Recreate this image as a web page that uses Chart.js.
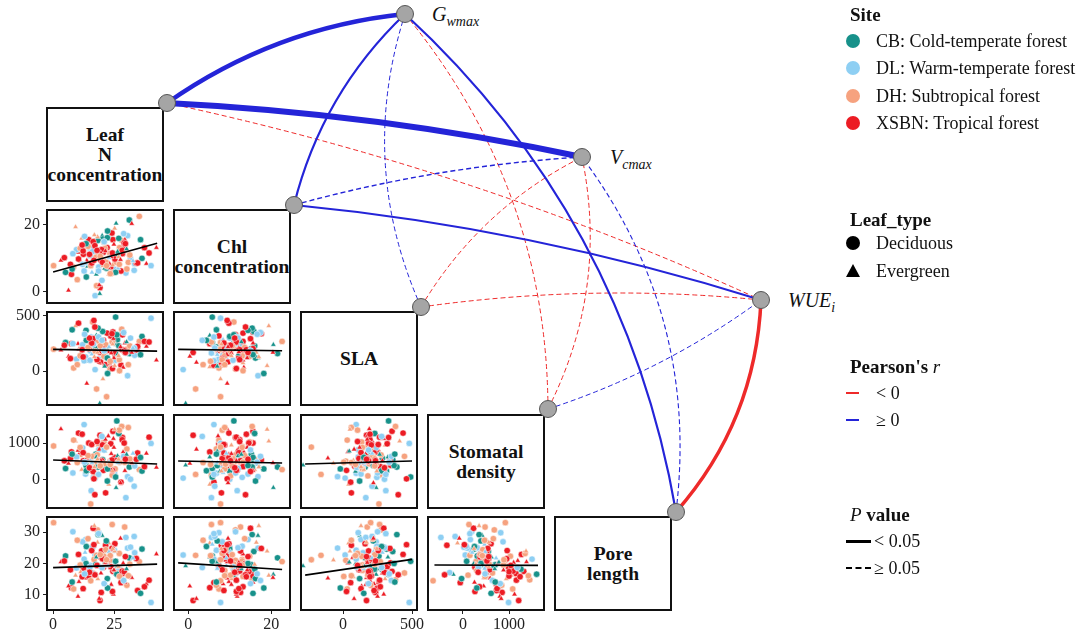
<!DOCTYPE html>
<html>
<head>
<meta charset="utf-8">
<title>Leaf traits vs Gwmax, Vcmax, WUEi</title>
<script src="https://cdn.jsdelivr.net/npm/chart.js@4.4.1/dist/chart.umd.min.js"></script>
<style>
  body { margin: 0; width: 1080px; height: 637px; position: relative; overflow: hidden; background: #fff;
         font-family: "Liberation Serif", "Times New Roman", serif; color: #111; }
  canvas { position: absolute; }
  .diag { position: absolute; box-sizing: border-box; border: 2px solid #111; display: flex; align-items: center;
          justify-content: center; text-align: center; font-weight: bold; font-size: 19.5px; line-height: 20px; }
  .lbl { position: absolute; font-style: italic; font-size: 20px; line-height: 22px; white-space: nowrap; }
  .lbl sub { font-size: 14px; vertical-align: -5px; line-height: 0; }
  .lt { position: absolute; left: 850px; font-weight: bold; font-size: 19px; line-height: 22px; white-space: nowrap; }
  .li { position: absolute; left: 876px; font-size: 18px; line-height: 20px; white-space: nowrap; }
  .sym { position: absolute; }
</style>
</head>
<body>

<div class="lbl" style="left:432px;top:3px">G<sub>wmax</sub></div>
<div class="lbl" style="left:610px;top:146px">V<sub>cmax</sub></div>
<div class="lbl" style="left:788px;top:289px">WUE<sub>i</sub></div>

<script>
// =====================
// Data
// =====================
const traitLabels = [["Leaf", "N", "concentration"], ["Chl", "concentration"], ["SLA"], ["Stomatal", "density"], ["Pore", "length"]];
const siteNames = ["CB: Cold-temperate forest", "DL: Warm-temperate forest", "DH: Subtropical forest", "XSBN: Tropical forest"];
const typeNames = ["Deciduous", "Evergreen"];

// one entry per sampled species/leaf
const leafN = [12.4, 25.1, 18.3, 31.2, 7.5, 22.8, 15.2, 28.4, 20.1, 35.3,
  10.6, 17.2, 24.5, 29.3, 14.1, 19.7, 33.4, 9.2, 21.5, 26.3,
  16.8, 38.2, 13.3, 23.6, 27.4, 5.1, 19.2, 30.5, 11.3, 22.1,
  18.7, 25.8, 34.1, 8.4, 20.6, 15.9, 28.1, 42.3, 17.5, 24.2,
  13.8, 21.2, 31.7, 6.3, 26.9, 19.4, 16.2, 29.8, 10.2, 23.3,
  36.4, 14.6, 22.4, 18.1, 27.8, 3.2, 20.3, 25.4, 12.1, 32.2,
  17.8, 24.7, 9.6, 21.8, 28.7, 15.4, 19.9, 40.1, 11.7, 26.1,
  23.1, 16.5, 30.2, 7.1, 18.4, 22.6, 27.2, 13.1, 34.6, 20.8,
  15.6, 25.3, 19.1, 0.2, 29.4, 12.7, 24.1, 17.3, 21.1, 37.4,
  14.3, 26.6, 10.4, 22.2, 31.4, 18.9, 16.1, 28.3, 20.4, 8.1,
  23.8, 13.5, 27.1, 19.6, 33.2, 11.1, 24.3, 17.7, 29.1, 21.6,
  15.1, 39.3, 18.2, 25.6, 12.3, 22.9, 30.8, 16.4, 26.4, 20.2,
  19.3, 24.9, 13.6, 28.9, 21.4, 9.9, 17.1, 32.7, 22.3, 15.8,
  26.8, 18.6, 11.9, 23.4, 30.1, 16.7, 20.9, 4.6, 25.2, 14.9,
  35.8, 21.9, 27.6, 12.9, 18.0, 24.4, 7.8, 29.6, 20.0, 16.9];
const chl = [11.2, 6.8, 10.4, 21.5, 5.2, 5.2, 12.8, 11.4, 16.8, 22.6,
  9.8, -1.2, 15.6, 12.6, 7.6, 12.6, 8.4, 19.4, 8.0, 11.0,
  13.0, 8.4, 14.4, 7.4, 13.2, 5.8, 1.2, 16.8, 9.0, 13.2,
  7.4, 20.5, 8.6, 7.4, 11.8, 5.8, 15.4, 13.2, 15.2, 5.6,
  9.4, 13.0, 10.0, 0.4, 16.0, 9.6, 11.0, 5.6, 11.8, 11.4,
  10.0, 15.6, 9.2, 11.4, 6.2, 9.4, 15.8, 8.8, 8.2, 20.4,
  1.8, 11.6, 12.6, 7.0, 13.4, 7.8, 12.6, 7.8, 16.0, 11.0,
  8.4, 13.0, 6.8, 8.2, 15.4, 7.2, 13.2, 8.4, 8.6, 14.8,
  11.8, 9.8, -0.6, 7.8, 15.6, 6.2, 17.6, 10.2, 7.0, 13.2,
  13.6, 7.0, 9.8, 16.2, 11.0, 2.0, 12.0, 12.4, 7.8, 11.4,
  10.4, 14.4, 8.2, 11.6, 6.4, 13.0, 11.6, 5.2, 14.6, 9.0,
  10.8, 11.6, 16.4, 5.8, 12.2, 10.2, 8.8, 15.0, 12.0, 8.8,
  10.6, 14.2, 4.4, 17.4, 12.2, 3.6, 13.8, 9.2, 18.2, 8.6,
  10.4, 6.2, 14.0, 5.4, 12.8, 9.4, 15.0, 10.2, 19.0, 11.2,
  15.6, 7.8, 9.6, 16.6, 12.4, 8.0, 6.8, 14.4, 3.4, 17.0];
const sla = [210, 95, 305, 160, 250, 40, 185, 330, 120, 270,
  200, 15, 355, 175, 90, 235, 145, 410, 60, 285,
  190, 225, 130, 320, 75, 260, 170, -40, 215, 345,
  110, 240, 195, 30, 280, 155, 380, 100, 205, 265,
  -110, 180, 300, 135, 230, 85, 445, 165, 250, 20,
  315, 205, 125, 275, 55, 190, 360, 140, 240, 170,
  -160, 295, 110, 220, 35, 260, 185, 480, 150, 330,
  70, 245, 200, 115, 390, 175, 5, 285, 225, 135,
  310, 160, -290, 200, 255, 95, 340, 180, 45, 270,
  215, 150, 435, 120, 230, 80, 300, 195, -70, 250,
  165, 370, 105, 285, 210, 140, 25, 325, 185, 240,
  100, 265, 170, 490, 130, 220, 60, 295, 155, 205,
  230, 120, 280, 350, 175, 60, 400, 210, -20, 255,
  140, 310, 195, 90, 265, 460, 185, 235, 50, 300,
  150, -230, 220, 335, 105, 245, 375, 170, 280, 130];
const stomDensity = [520, 180, 940, 350, 760, -120, 610, 1150, 420, 280,
  690, 50, 1320, 480, 230, 850, 380, 1050, -350, 590,
  440, 720, 160, 980, 530, 310, 1210, 90, 650, 400,
  820, -210, 560, 1080, 260, 470, 1450, 340, 700, 130,
  590, 910, 20, 450, 1260, 370, 640, -480, 800, 510,
  240, 1000, 410, 680, -60, 1380, 550, 300, 870, 460,
  150, 1120, 620, 390, 760, -650, 520, 990, 280, 1600,
  430, 70, 840, 580, 350, 1190, 480, 200, 730, 1030,
  -290, 610, 400, 920, 250, 1500, 540, 110, 780, 360,
  660, 470, 1270, -30, 570, 830, 310, 1090, 450, 190,
  710, 390, 1350, 520, -170, 880, 260, 620, 1000, 430,
  340, 1160, 560, 80, 740, 480, 1420, 230, 650, 950,
  380, 880, 250, 640, 1100, 470, -400, 720, 300, 960,
  560, 150, 1240, 420, 690, 30, 810, 520, 1370, 330,
  610, 890, -80, 480, 1040, 240, 700, 560, 1180, 350];
const poreLength = [18.5, 24.2, 15.1, 21.8, 12.3, 26.5, 19.4, 16.8, 28.9, 20.6,
  14.2, 22.7, 17.5, 31.6, 19.9, 10.8, 23.4, 16.2, 25.8, 18.1,
  21.3, 13.5, 27.6, 19.0, 15.7, 22.4, 8.2, 24.9, 17.3, 20.2,
  29.8, 16.5, 21.6, 11.9, 18.8, 26.1, 14.8, 23.0, 19.6, 32.4,
  15.3, 20.8, 25.2, 12.8, 18.2, 22.1, 17.0, 28.3, 9.5, 21.0,
  24.6, 16.0, 19.3, 30.7, 13.9, 20.5, 23.8, 17.8, 26.9, 15.5,
  22.6, 10.2, 18.6, 27.2, 20.1, 14.5, 24.0, 7.6, 19.7, 16.6,
  21.9, 25.5, 13.1, 18.0, 29.2, 20.9, 15.9, 23.5, 11.4, 22.3,
  17.1, 26.3, 19.2, 33.0, 14.0, 21.4, 24.8, 16.3, 20.4, 12.6,
  27.9, 18.4, 22.9, 15.2, 19.8, 8.8, 25.0, 17.6, 21.1, 30.1,
  13.3, 20.0, 23.2, 16.9, 28.6, 19.5, 11.1, 22.0, 17.4, 24.4,
  18.9, 14.7, 26.7, 20.7, 12.0, 23.7, 16.1, 31.2, 19.1, 21.5,
  22.8, 17.9, 25.4, 14.6, 20.3, 27.4, 16.4, 21.7, 12.2, 24.1,
  19.0, 29.5, 15.8, 22.5, 18.3, 26.0, 13.6, 20.8, 23.9, 17.2,
  10.5, 21.2, 28.0, 16.7, 19.4, 24.7, 14.1, 22.2, 18.7, 32.0];
// 0 CB, 1 DL, 2 DH, 3 XSBN
const site = [3,1,2,0,3,2,1,3,0,2, 3,1,3,2,0,3,1,2,3,0, 2,3,1,3,2,0,3,1,2,3, 1,0,3,2,3,1,2,3,0,2,
  3,2,1,3,0,3,2,1,3,2, 0,3,1,2,3,3,0,2,1,3, 2,3,1,0,3,2,3,1,2,0, 3,1,2,3,0,3,2,1,3,2,
  1,3,0,2,3,1,3,2,0,3, 2,1,3,0,2,3,1,3,2,1, 3,0,2,3,1,2,3,0,3,2, 1,3,2,0,3,1,2,3,0,3,
  2,3,0,1,3,2,3,1,0,3, 2,1,3,2,0,3,1,3,2,3, 0,2,3,1,3,2,0,3,1,2];
// 0 deciduous, 1 evergreen
const leafType = [0,0,1,0,0,1,0,0,1,0, 1,0,0,0,1,0,0,1,0,0, 0,1,0,0,1,0,0,0,1,0, 0,1,0,0,0,1,0,1,0,0,
  1,0,0,1,0,0,0,0,1,0, 0,0,1,0,0,1,0,0,0,1, 0,1,0,0,1,0,0,0,1,0, 1,0,0,0,0,1,0,1,0,0,
  0,0,1,0,1,0,0,0,1,0, 0,1,0,0,0,1,0,0,1,0, 1,0,0,1,0,0,0,1,0,0, 0,0,1,0,0,1,0,0,1,0,
  0,1,0,0,1,0,0,1,0,0, 1,0,0,0,1,0,0,0,1,0, 0,0,1,0,0,1,0,0,0,1];

const traitVals = [leafN, chl, sla, stomDensity, poreLength];
const traitMin = [-2.5, -3.4, -305, -760, 5.2];
const traitMax = [45, 24.5, 536, 1760, 34.8];
const traitTicks = [[0, 25], [0, 20], [0, 500], [0, 1000], [10, 20, 30]];

// lower-triangle panels: row trait (y) vs column trait (x)
const panelRow = [1, 2, 2, 3, 3, 3, 4, 4, 4, 4];
const panelCol = [0, 0, 1, 0, 1, 2, 0, 1, 2, 3];
// fitted lines
const fitX0 = [0, 0, -2.4, 0, -2.4, -275, 0, -2.4, -275, -620];
const fitY0 = [5.9, 198, 198, 540, 513, 432, 18.7, 20.2, 16.3, 19.5];
const fitX1 = [42.6, 42.6, 22.6, 42.6, 22.6, 500, 42.6, 22.6, 500, 1630];
const fitY1 = [14.5, 182, 185, 432, 460, 513, 19.8, 18.1, 21.3, 19.4];

// links: traits (0-4) to Gwmax (5), Vcmax (6), WUEi (7)
const edgeFrom = [0, 0, 0, 1, 1, 1, 2, 2, 2, 3, 3, 3, 4, 4, 4];
const edgeTo   = [5, 6, 7, 5, 6, 7, 5, 6, 7, 5, 6, 7, 5, 6, 7];
const edgeR    = [0.40, 0.55, -0.08, 0.20, 0.13, 0.20, 0.08, -0.08, -0.08, -0.08, -0.08, 0.08, 0.20, 0.10, -0.32];
const edgeP    = [0.001, 0.001, 0.30, 0.01, 0.10, 0.01, 0.40, 0.30, 0.30, 0.30, 0.30, 0.40, 0.01, 0.20, 0.001];

// =====================
// Layout / style
// =====================
const colX = [47, 174, 301, 428, 555];
const rowY = [108, 210, 312, 415, 517];
const boxW = 116, boxH = 93;
const siteColors = ["#17918a", "#8ecff3", "#f6a27f", "#ec1c24"];
const RED = "#ee2a2a", BLUE = "#2424d8";
// network node layout (page space) and curvature of each link
const nodeX = [167, 294, 421, 548, 676, 405, 582, 761];
const nodeY = [103, 205, 307, 409, 512, 14, 157, 300];
const edgeCurve = [0.13, 0.04, 0.055, 0.145, 0.052, 0.052, 0.19, 0.146, 0.06, -0.178, -0.174, -0.08, -0.17, -0.2, -0.176];

Chart.defaults.font.family = '"Liberation Serif", "Times New Roman", serif';

const frame = {
  id: "frame",
  afterDraw(chart) {
    const { ctx, chartArea: a } = chart;
    ctx.save();
    ctx.strokeStyle = "#111";
    ctx.lineWidth = 2;
    ctx.strokeRect(a.left, a.top, a.right - a.left, a.bottom - a.top);
    ctx.restore();
  }
};

function axis(t, show, isX) {
  return {
    type: "linear",
    min: traitMin[t],
    max: traitMax[t],
    display: show,
    afterFit: s => {
      if (!show) return;
      // keep the panel box fixed: no extra room for end labels
      s.paddingTop = 0; s.paddingBottom = 0; s.paddingLeft = 0; s.paddingRight = 0;
      if (isX) s.height = 27; else s.width = colX[0];
    },
    afterBuildTicks: s => { s.ticks = traitTicks[t].map(v => ({ value: v })); },
    grid: { display: true, drawOnChartArea: false, drawTicks: true, tickLength: 4, color: "#222", lineWidth: 1 },
    border: { display: false },
    ticks: { font: { size: 16 }, color: "#222", padding: isX ? 1 : 3, maxRotation: 0, autoSkip: false,
             callback: v => String(v) }
  };
}

// =====================
// Diagonal label boxes
// =====================
traitLabels.forEach((lines, i) => {
  const d = document.createElement("div");
  d.className = "diag";
  d.style.left = (colX[i] - 1) + "px";
  d.style.top = (rowY[i] - 1) + "px";
  d.style.width = (boxW + 2) + "px";
  d.style.height = (boxH + 2) + "px";
  d.innerHTML = lines.join("<br>");
  document.body.appendChild(d);
});

// =====================
// Scatter panels
// =====================
panelRow.forEach((r, k) => {
  const c = panelCol[k];
  const yAxis = c === 0, xAxis = r === 4;
  const padTop = yAxis ? 10 : 2;
  const padRight = xAxis ? 14 : 2;
  const cv = document.createElement("canvas");
  const left = yAxis ? 0 : colX[c] - 2;
  const areaLeft = yAxis ? colX[0] : 2;
  const w = areaLeft + boxW + padRight;
  const h = padTop + boxH + (xAxis ? 27 : 2);
  cv.width = w; cv.height = h;
  cv.style.left = left + "px";
  cv.style.top = (rowY[r] - padTop) + "px";
  document.body.appendChild(cv);

  const xs = traitVals[c], ys = traitVals[r];
  new Chart(cv, {
    type: "scatter",
    data: {
      datasets: [
        {
          type: "line",
          data: [{ x: fitX0[k], y: fitY0[k] }, { x: fitX1[k], y: fitY1[k] }],
          borderColor: "#000", borderWidth: 1.6, pointRadius: 0, order: 0
        },
        {
          data: xs.map((x, i) => ({ x, y: ys[i] })),
          backgroundColor: site.map(s => siteColors[s]),
          pointStyle: leafType.map(t => (t ? "triangle" : "circle")),
          pointRadius: 3.2,
          borderColor: "rgba(255,255,255,0.85)", borderWidth: 0.6, order: 1
        }
      ]
    },
    options: {
      responsive: false, animation: false, events: [],
      layout: { autoPadding: false, padding: { left: yAxis ? 0 : 2, right: padRight, top: padTop, bottom: xAxis ? 0 : 2 } },
      plugins: { legend: { display: false }, tooltip: { enabled: false } },
      scales: { x: axis(c, xAxis, true), y: axis(r, yAxis, false) }
    },
    plugins: [frame]
  });
});

// =====================
// Network overlay
// =====================
const edgePlugin = {
  id: "edges",
  beforeDatasetsDraw(chart) {
    const { ctx, scales: { x, y } } = chart;
    const order = edgeFrom.map((_, i) => i).sort((a, b) => Math.abs(edgeR[a]) - Math.abs(edgeR[b]));
    order.forEach(i => {
      const x1 = x.getPixelForValue(nodeX[edgeFrom[i]]), y1 = y.getPixelForValue(nodeY[edgeFrom[i]]);
      const x2 = x.getPixelForValue(nodeX[edgeTo[i]]), y2 = y.getPixelForValue(nodeY[edgeTo[i]]);
      const k = edgeCurve[i];
      const cx = (x1 + x2) / 2 + k * (y2 - y1);
      const cy = (y1 + y2) / 2 - k * (x2 - x1);
      ctx.save();
      ctx.strokeStyle = edgeR[i] < 0 ? RED : BLUE;
      ctx.lineWidth = Math.max(1, Math.abs(edgeR[i]) * 11);
      ctx.setLineDash(edgeP[i] < 0.05 ? [] : [5, 3]);
      ctx.beginPath();
      ctx.moveTo(x1, y1);
      ctx.quadraticCurveTo(cx, cy, x2, y2);
      ctx.stroke();
      ctx.restore();
    });
  }
};

const net = document.createElement("canvas");
net.width = 1080; net.height = 637;
net.style.left = "0px"; net.style.top = "0px";
document.body.appendChild(net);
new Chart(net, {
  type: "scatter",
  data: {
    datasets: [{
      data: nodeX.map((x, i) => ({ x, y: nodeY[i] })),
      pointRadius: 8.5, backgroundColor: "#a5a5a5", borderColor: "#555", borderWidth: 1, clip: false
    }]
  },
  options: {
    responsive: false, animation: false, events: [],
    layout: { autoPadding: false, padding: 0 },
    plugins: { legend: { display: false }, tooltip: { enabled: false } },
    scales: {
      x: { type: "linear", display: false, min: 0, max: 1080 },
      y: { type: "linear", display: false, min: 0, max: 637, reverse: true }
    }
  },
  plugins: [edgePlugin]
});

// =====================
// Legend
// =====================
function el(cls, top, html, extra) {
  const d = document.createElement("div");
  d.className = cls;
  d.style.top = top + "px";
  if (extra) Object.assign(d.style, extra);
  d.innerHTML = html;
  document.body.appendChild(d);
  return d;
}
el("lt", 4, "Site");
siteNames.forEach((n, i) => {
  const cy = 41 + i * 27.3;
  el("li", cy - 10, n);
  el("sym", cy - 7, "", { left: "846px", width: "14px", height: "14px", borderRadius: "50%", background: siteColors[i] });
});
el("lt", 209, "Leaf_type");
typeNames.forEach((n, i) => {
  const cy = 243 + i * 28;
  el("li", cy - 10, n);
  if (i === 0) el("sym", cy - 7, "", { left: "846px", width: "14px", height: "14px", borderRadius: "50%", background: "#000" });
  else el("sym", cy - 7, "", { left: "846px", width: "0", height: "0", borderLeft: "7px solid transparent",
                               borderRight: "7px solid transparent", borderBottom: "13px solid #000" });
});
el("lt", 356, "Pearson's <i style='font-weight:normal'>r</i>");
el("li", 383, "&lt; 0");
el("sym", 392, "", { left: "846px", width: "13px", height: "2px", background: RED });
el("li", 410, "&ge; 0");
el("sym", 419, "", { left: "846px", width: "13px", height: "2px", background: BLUE });
el("lt", 504, "<i style='font-weight:normal'>P</i> value");
el("li", 531, "&lt; 0.05", { left: "874px" });
el("sym", 540, "", { left: "846px", width: "25px", height: "2.5px", background: "#000" });
el("li", 558, "&ge; 0.05", { left: "874px" });
el("sym", 567, "", { left: "846px", width: "25px", height: "0", borderTop: "2.5px dashed #000" });
</script>
</body>
</html>
